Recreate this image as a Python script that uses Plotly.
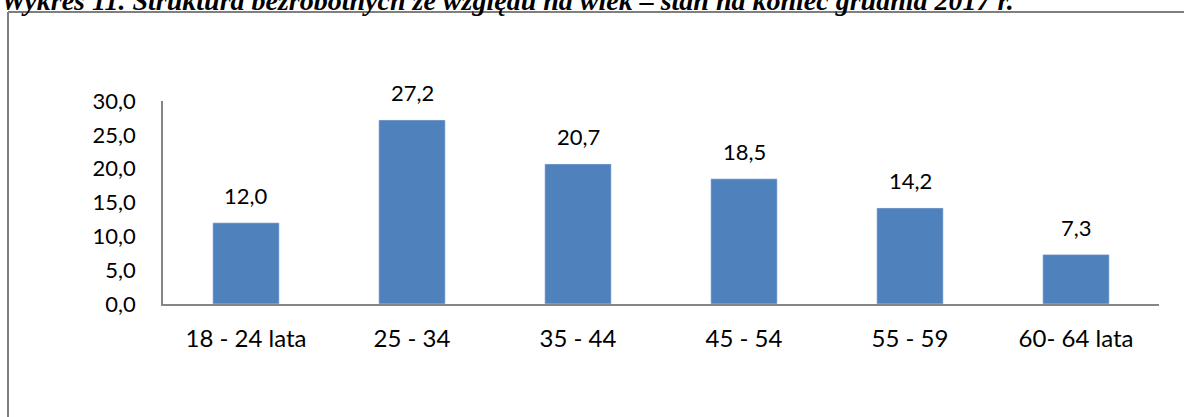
import plotly.graph_objects as go

categories = ["18 - 24 lata", "25 - 34", "35 - 44", "45 - 54", "55 - 59", "60- 64 lata"]
values = [12.0, 27.2, 20.7, 18.5, 14.2, 7.3]
value_labels = ["12,0", "27,2", "20,7", "18,5", "14,2", "7,3"]
y_tickvals = [0, 5, 10, 15, 20, 25, 30]
y_ticktext = ["0,0", "5,0", "10,0", "15,0", "20,0", "25,0", "30,0"]
title_text = "Wykres 11. Struktura bezrobotnych ze względu na wiek – stan na koniec grudnia 2017 r."

W, H = 1184, 417
L, R, T, B = 163, 25, 101, 113
pw, ph = W - L - R, H - T - B

def px(x):
    return (x - L) / pw

def py(y):
    return (H - B - y) / ph

FONT = "Lato"
fig = go.Figure(go.Bar(
    x=categories, y=values, marker_color="#4F81BD", width=0.4,
    hoverinfo="skip"))

for c, v, t in zip(categories, values, value_labels):
    fig.add_annotation(x=c, y=v, text=t, showarrow=False, yanchor="middle",
                       yshift=27, font=dict(family=FONT, size=22, color="#000"))

fig.add_annotation(xref="paper", yref="paper", x=px(-1), y=py(1), xanchor="left",
                   yanchor="middle", showarrow=False, text="<b><i>" + title_text + "</i></b>",
                   font=dict(family="Liberation Serif", size=28, color="#000"))

line_col = "#7f7f7f"
fig.add_shape(type="line", xref="paper", yref="paper", x0=px(8), x1=px(8), y0=py(12), y1=py(430),
              line=dict(color=line_col, width=2))
fig.add_shape(type="line", xref="paper", yref="paper", x0=px(8), x1=px(1200), y0=py(12), y1=py(12),
              line=dict(color=line_col, width=2))

fig.update_layout(
    width=W, height=H, margin=dict(l=L, r=R, t=T, b=B),
    paper_bgcolor="white", plot_bgcolor="white", showlegend=False,
    bargap=0.6,
    xaxis=dict(showline=True, linecolor="#868686", linewidth=1.5, showgrid=False,
               ticks="", tickfont=dict(family=FONT, size=24, color="#000"),
               ticklabelstandoff=12, zeroline=False),
    yaxis=dict(range=[0, 30], tickvals=y_tickvals, ticktext=y_ticktext, showline=True,
               linecolor="#868686", linewidth=1.5, showgrid=False, ticks="", zeroline=False,
               tickfont=dict(family=FONT, size=22, color="#000"), ticklabelstandoff=21),
)
fig.write_html("out.html", config={"displayModeBar": False},
               post_script="document.body.style.margin='0px';document.body.style.overflow='hidden';")
